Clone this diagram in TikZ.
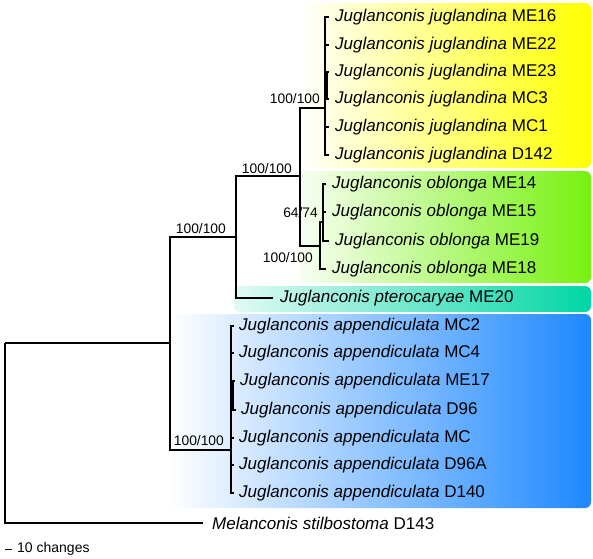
\documentclass[tikz,border=0pt]{standalone}
\usepackage{fontspec}
\setmainfont{Liberation Sans}
\usepackage{tikz}
\usetikzlibrary{positioning,calc}
\definecolor{jugYellow}{RGB}{255,255,0}
\definecolor{oblGreen}{RGB}{118,242,14}
\definecolor{ptTeal}{RGB}{0,214,165}
\definecolor{appBlue}{RGB}{30,136,255}
\tikzstyle{taxon}=[anchor=west,inner sep=0pt,font=\fontsize{17}{20}\selectfont]
\tikzstyle{support}=[anchor=base east,inner sep=0pt,font=\fontsize{13.8}{16}\selectfont]
\tikzstyle{branch}=[draw,line width=1.2pt]
\tikzstyle{cladebox}=[rounded corners=6pt,left color=white]

\begin{document}
\begin{tikzpicture}[x=1pt,y=-1pt]
\useasboundingbox (0,0) rectangle (593,558);

% clade boxes
\shade[cladebox,right color=jugYellow] (297,3) rectangle (591,168);
\shade[cladebox,right color=oblGreen,left color=oblGreen!5!white] (299,171) rectangle (591,283);
\shade[cladebox,right color=ptTeal,left color=ptTeal!12!white] (234,286) rectangle (591,312);
\shade[cladebox,right color=appBlue] (168,314) rectangle (591,508);

% internal nodes
\coordinate (r) at (5,343);
\coordinate (a) at (170,343);
\coordinate (b) at (236,237);
\coordinate (c) at (300,176);
\coordinate (j) at (325,108);
\coordinate (j2) at (327,86);
\coordinate (o) at (320,246);
\coordinate (o2) at (323,222);
\coordinate (app) at (231,450);
\coordinate (app2) at (233,395);

% tips
\coordinate (t1) at (329,17);
\coordinate (t2) at (329,45);
\coordinate (t3) at (329,72);
\coordinate (t4) at (329,99);
\coordinate (t5) at (329,127);
\coordinate (t6) at (329,155);
\coordinate (t7) at (326,184);
\coordinate (t8) at (326,212);
\coordinate (t9) at (329,241);
\coordinate (t10) at (326,269);
\coordinate (t11) at (273,298);
\coordinate (t12) at (234,326);
\coordinate (t13) at (234,353);
\coordinate (t14) at (235,381);
\coordinate (t15) at (236,410);
\coordinate (t16) at (234,438);
\coordinate (t17) at (234,465);
\coordinate (t18) at (234,493);
\coordinate (t19) at (203,523);

% branches
\draw[branch] (r) |- (a);
\draw[branch] (r) |- (t19);
\draw[branch] (a) |- (b);
\draw[branch] (a) |- (app);
\draw[branch] (b) |- (c);
\draw[branch] (b) |- (t11);
\draw[branch] (c) |- (j);
\draw[branch] (c) |- (o);
\draw[branch] (j) |- (t1);
\draw[branch] (j) |- (t2);
\draw[branch] (j) |- (j2);
\draw[branch] (j2) |- (t3);
\draw[branch] (j2) |- (t4);
\draw[branch] (j) |- (t5);
\draw[branch] (j) |- (t6);
\draw[branch] (o) |- (o2);
\draw[branch] (o) |- (t10);
\draw[branch] (o2) |- (t7);
\draw[branch] (o2) |- (t8);
\draw[branch] (o2) |- (t9);
\draw[branch] (app) |- (t12);
\draw[branch] (app) |- (t13);
\draw[branch] (app) |- (app2);
\draw[branch] (app2) |- (t14);
\draw[branch] (app2) |- (t15);
\draw[branch] (app) |- (t16);
\draw[branch] (app) |- (t17);
\draw[branch] (app) |- (t18);

% support values
\node[support] (sB) at ($(b)+(-10,-4)$) {100/100};
\node[support] (sApp) at ($(app)+(-7,-5)$) {100/100};
\node[support] (sC) at ($(c)+(-8,-3)$) {100/100};
\node[support] (sJ) at ($(j)+(-5,-5)$) {100/100};
\node[support] (sO2) at ($(o2)+(-5,-5)$) {64/74};
\node[support] (sO) at ($(o)+(-7,16)$) {100/100};

% taxa
\node[taxon, right=6pt of t1] (jME16) {\textit{Juglanconis juglandina} ME16};
\node[taxon, right=6pt of t2] (jME22) {\textit{Juglanconis juglandina} ME22};
\node[taxon, right=6pt of t3] (jME23) {\textit{Juglanconis juglandina} ME23};
\node[taxon, right=6pt of t4] (jMC3) {\textit{Juglanconis juglandina} MC3};
\node[taxon, right=6pt of t5] (jMC1) {\textit{Juglanconis juglandina} MC1};
\node[taxon, right=6pt of t6] (jD142) {\textit{Juglanconis juglandina} D142};
\node[taxon, right=6pt of t7] (oME14) {\textit{Juglanconis oblonga} ME14};
\node[taxon, right=6pt of t8] (oME15) {\textit{Juglanconis oblonga} ME15};
\node[taxon, right=6pt of t9] (oME19) {\textit{Juglanconis oblonga} ME19};
\node[taxon, right=6pt of t10] (oME18) {\textit{Juglanconis oblonga} ME18};
\node[taxon, right=7pt of t11] (pME20) {\textit{Juglanconis pterocaryae} ME20};
\node[taxon, right=5pt of t12] (aMC2) {\textit{Juglanconis appendiculata} MC2};
\node[taxon, right=5pt of t13] (aMC4) {\textit{Juglanconis appendiculata} MC4};
\node[taxon, right=5pt of t14] (aME17) {\textit{Juglanconis appendiculata} ME17};
\node[taxon, right=5pt of t15] (aD96) {\textit{Juglanconis appendiculata} D96};
\node[taxon, right=5pt of t16] (aMC) {\textit{Juglanconis appendiculata} MC};
\node[taxon, right=5pt of t17] (aD96A) {\textit{Juglanconis appendiculata} D96A};
\node[taxon, right=5pt of t18] (aD140) {\textit{Juglanconis appendiculata} D140};
\node[taxon, right=9pt of t19] (mD143) {\textit{Melanconis stilbostoma} D143};

% scale bar
\coordinate (sbA) at (5,549);
\coordinate (sbB) at (12,549);
\draw[line width=0.9pt] (sbA) -- (sbB);
\node[anchor=west,inner sep=0pt,font=\fontsize{14}{16}\selectfont,right=5pt of sbB] (sbText) {10 changes};

\end{tikzpicture}
\end{document}
